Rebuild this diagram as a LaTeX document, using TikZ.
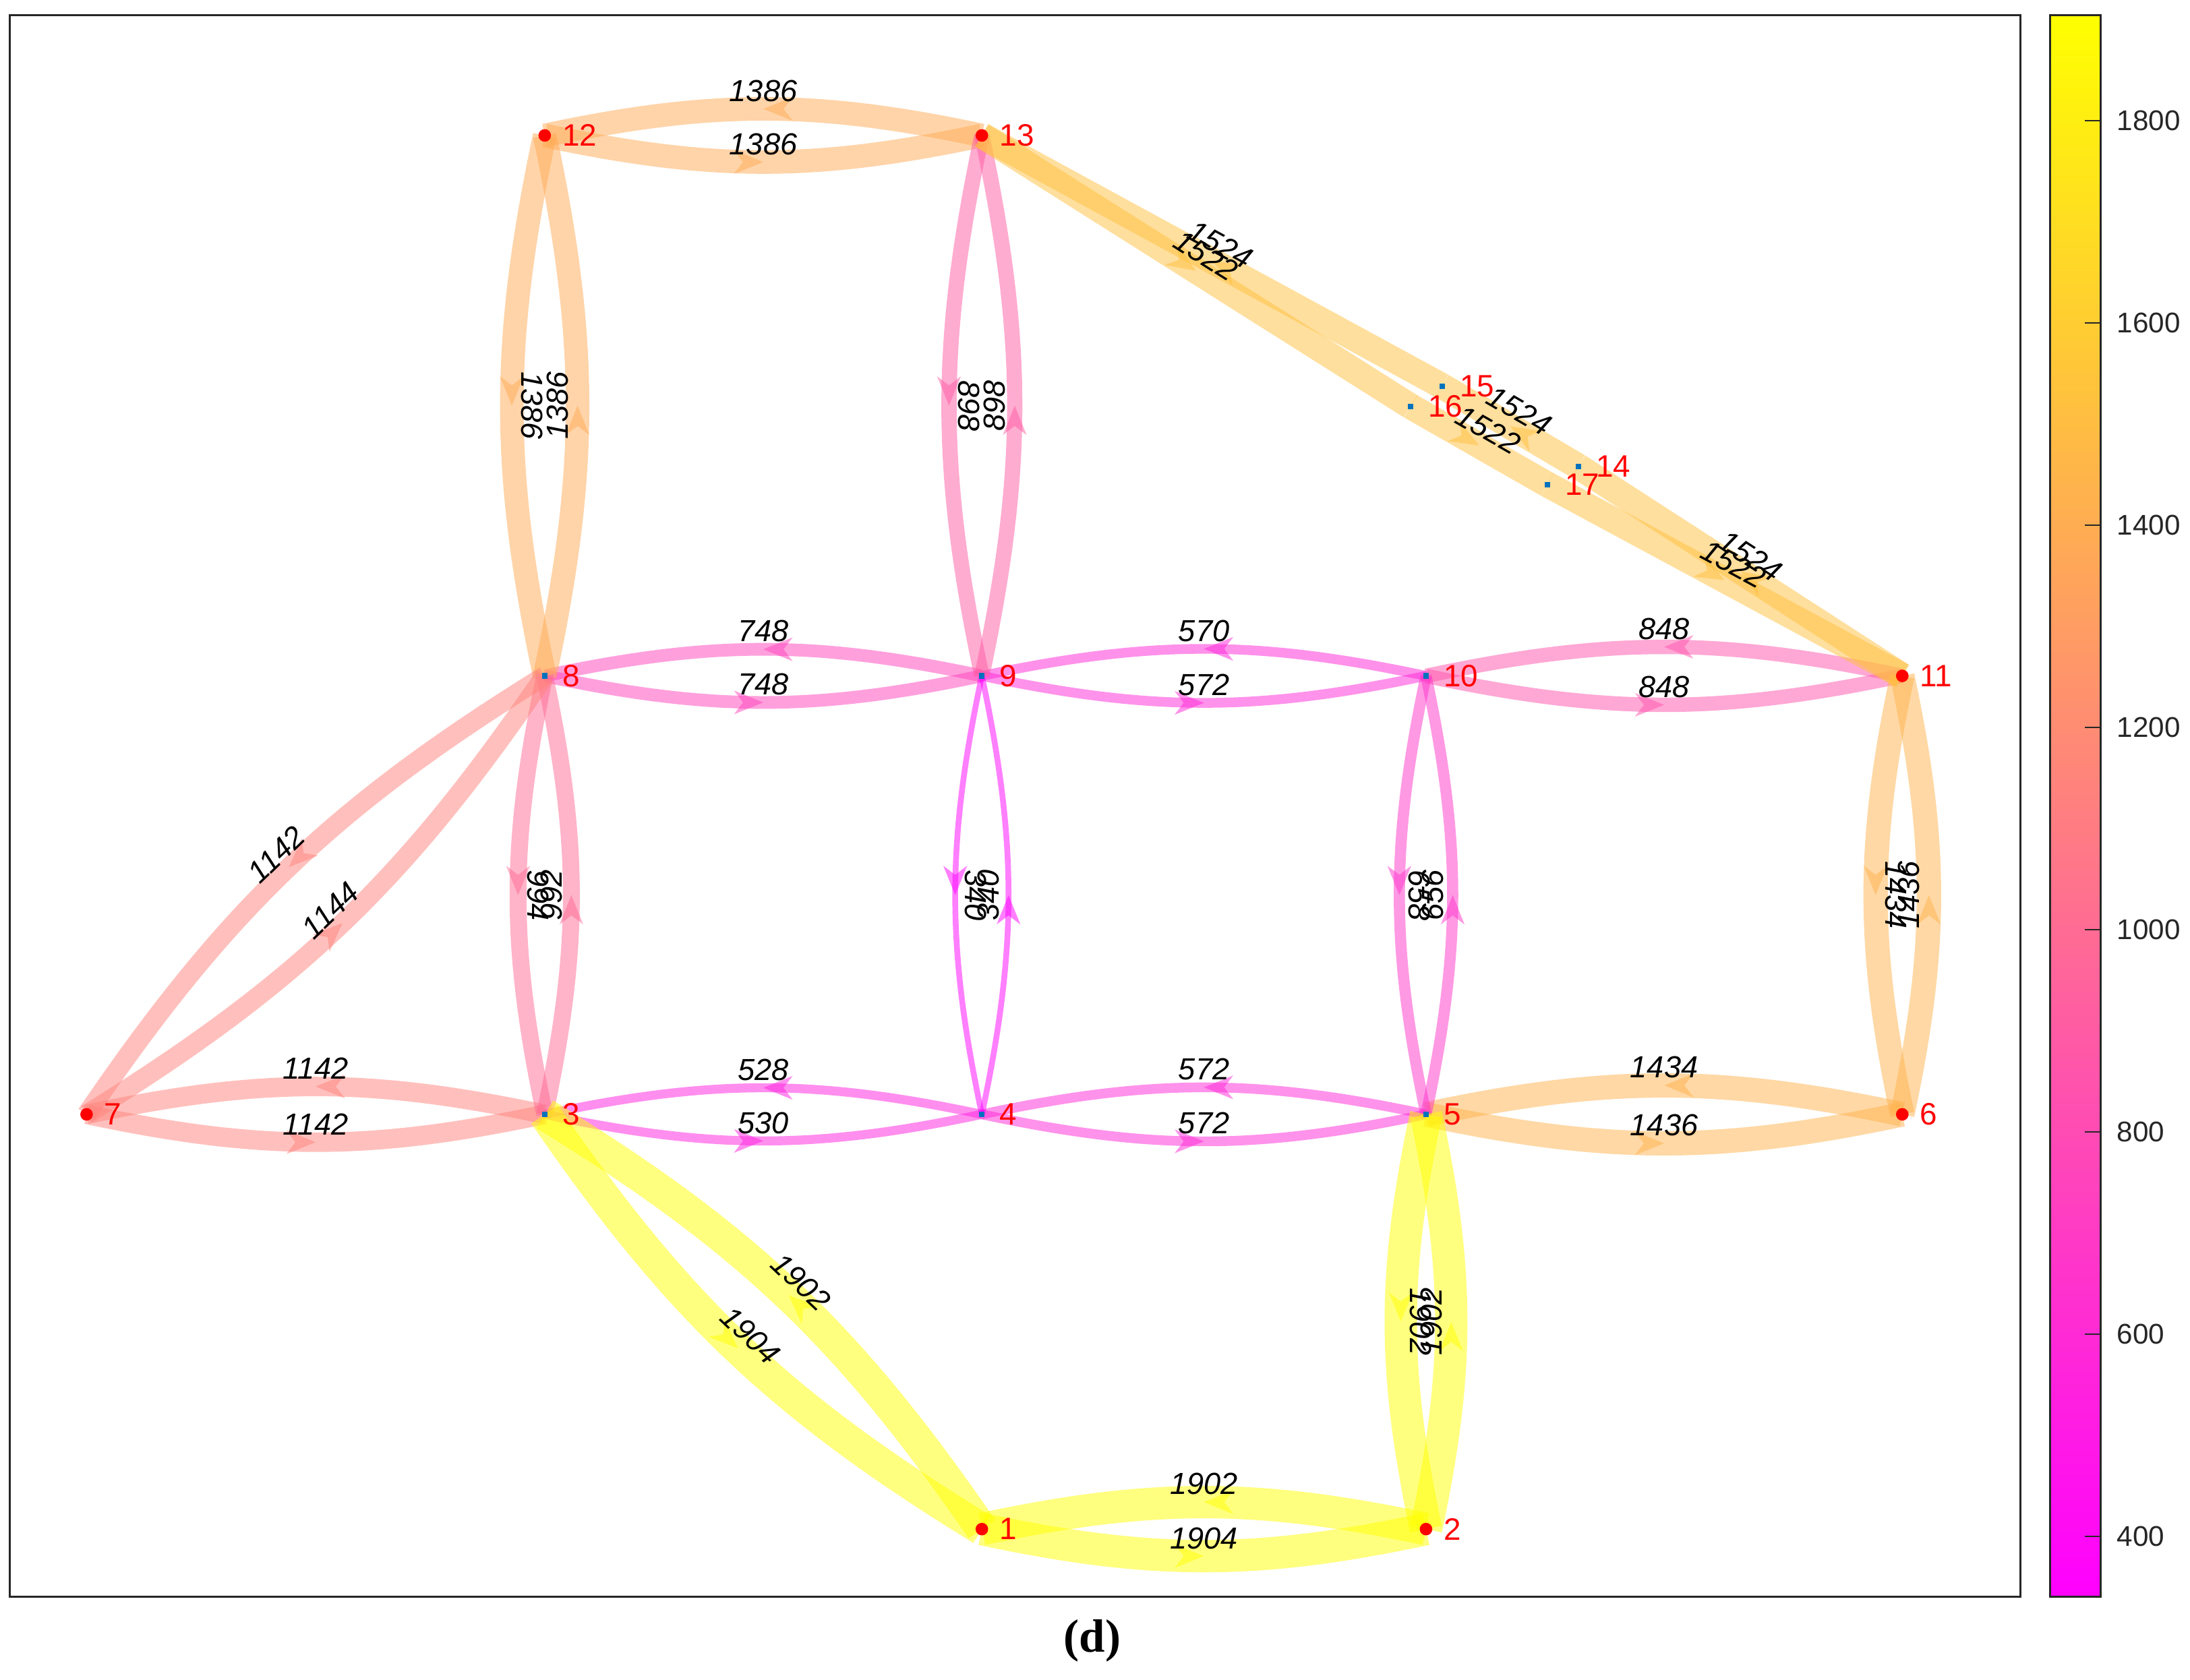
\documentclass[tikz,border=0pt]{standalone}
\usepackage{fontspec}
\setmainfont{Liberation Sans}
\newfontfamily\capfont{Liberation Serif}
\usetikzlibrary{decorations.markings}
\pgfdeclarelayer{fg}
\pgfsetlayers{main,fg}
\definecolor{mblue}{rgb}{0,0.447,0.741}
\definecolor{axgray}{rgb}{0.15,0.15,0.15}
\definecolor{cbmag}{rgb}{1,0,1}
\definecolor{cbyel}{rgb}{1,1,0}
\definecolor{ec}{rgb}{1,0,1}
\newcommand\flowcol[1]{%
  \pgfmathsetmacro\flowG{(#1-340)/1564}%
  \pgfmathsetmacro\flowB{1-\flowG}%
  \definecolor{ec}{rgb}{1,\flowG,\flowB}}
\tikzset{
  flowarrow/.style={postaction={decorate, decoration={markings,
     mark=at position 0.5 with {\fill[ec, fill opacity=0.5] (0,0) -- (-0.21cm,0.085cm) -- (-0.145cm,0) -- (-0.21cm,-0.085cm) -- cycle;}}}},
  flowline/.style={draw=ec, draw opacity=0.5, line cap=butt, flowarrow},
  elabel/.style={font=\fontsize{6.2}{7}\selectfont\itshape, text=black, anchor=south, inner xsep=0pt, inner ysep=0.045cm},
  vlab/.style={inner ysep=0.06cm},
  nlabel/.style={font=\fontsize{6.3}{7}\selectfont, text=red, anchor=west, inner sep=0pt},
  reddot/.style={circle, fill=red, inner sep=0pt, minimum size=0.09cm},
  bluesq/.style={rectangle, fill=mblue, inner sep=0pt, minimum size=0.04cm},
  cblabel/.style={font=\fontsize{5.8}{7}\selectfont, text=axgray, anchor=west, inner sep=0pt},
  boxline/.style={draw=axgray, line width=0.4pt},
}
% from, to, value, label, label options, path operation
\newcommand\fedge[6]{%
  \flowcol{#3}%
  \draw[flowline, line width=#3*0.000125cm] (n#1.center) #6 node[coordinate, pos=0.5] (m#1-#2) {} (n#2.center);%
  \begin{pgfonlayer}{fg}\node[elabel, #5] (l#1-#2) at (m#1-#2) {#4};\end{pgfonlayer}%
}
\newcommand\cv{to[bend right=12]}
\begin{document}
\begin{tikzpicture}[x=0.01cm, y=0.01cm]
\useasboundingbox (0,0) rectangle (1568,1203);
\fill[white] (0,0) rectangle (1568,1203);

% network nodes
\begin{pgfonlayer}{fg}
\node[reddot] (n1) at (703,108) {};
\node[reddot] (n2) at (1021,108) {};
\node[bluesq] (n3) at (390,405) {};
\node[bluesq] (n4) at (703,405) {};
\node[bluesq] (n5) at (1021,405) {};
\node[reddot] (n6) at (1362,405) {};
\node[reddot] (n7) at (62,405) {};
\node[bluesq] (n8) at (390,719) {};
\node[bluesq] (n9) at (703,719) {};
\node[bluesq] (n10) at (1021,719) {};
\node[reddot] (n11) at (1362,719) {};
\node[reddot] (n12) at (390,1106) {};
\node[reddot] (n13) at (703,1106) {};
\node[bluesq] (n14) at (1130,869) {};
\node[bluesq] (n15) at (1032.5,926.5) {};
\node[bluesq] (n16) at (1010,912) {};
\node[bluesq] (n17) at (1108,856) {};
\foreach \k in {1,...,17} {\node[nlabel] (t\k) at ([xshift=0.12cm]n\k.center) {\k};}
\end{pgfonlayer}

% horizontal pairs
\fedge{13}{12}{1386}{1386}{rotate=0}{\cv}
\fedge{12}{13}{1386}{1386}{rotate=0}{\cv}
\fedge{9}{8}{748}{748}{rotate=0}{\cv}
\fedge{8}{9}{748}{748}{rotate=0}{\cv}
\fedge{10}{9}{570}{570}{rotate=0}{\cv}
\fedge{9}{10}{572}{572}{rotate=0}{\cv}
\fedge{11}{10}{848}{848}{rotate=0}{\cv}
\fedge{10}{11}{848}{848}{rotate=0}{\cv}
\fedge{3}{7}{1142}{1142}{rotate=0}{\cv}
\fedge{7}{3}{1142}{1142}{rotate=0}{\cv}
\fedge{4}{3}{528}{528}{rotate=0}{\cv}
\fedge{3}{4}{530}{530}{rotate=0}{\cv}
\fedge{5}{4}{572}{572}{rotate=0}{\cv}
\fedge{4}{5}{572}{572}{rotate=0}{\cv}
\fedge{6}{5}{1434}{1434}{rotate=0}{\cv}
\fedge{5}{6}{1436}{1436}{rotate=0}{\cv}
\fedge{2}{1}{1902}{1902}{rotate=0}{\cv}
\fedge{1}{2}{1904}{1904}{rotate=0}{\cv}
% vertical pairs
\fedge{12}{8}{1386}{1386}{rotate=-90, vlab}{\cv}
\fedge{8}{12}{1386}{1386}{rotate=90, vlab}{\cv}
\fedge{13}{9}{898}{898}{rotate=-90, vlab}{\cv}
\fedge{9}{13}{898}{898}{rotate=90, vlab}{\cv}
\fedge{8}{3}{994}{994}{rotate=-90, vlab}{\cv}
\fedge{3}{8}{992}{992}{rotate=90, vlab}{\cv}
\fedge{9}{4}{340}{340}{rotate=-90, vlab}{\cv}
\fedge{4}{9}{340}{340}{rotate=90, vlab}{\cv}
\fedge{10}{5}{658}{658}{rotate=-90, vlab}{\cv}
\fedge{5}{10}{656}{656}{rotate=90, vlab}{\cv}
\fedge{11}{6}{1434}{1434}{rotate=-90, vlab}{\cv}
\fedge{6}{11}{1436}{1436}{rotate=90, vlab}{\cv}
\fedge{5}{2}{1902}{1902}{rotate=-90, vlab}{\cv}
\fedge{2}{5}{1902}{1902}{rotate=90, vlab}{\cv}
% diagonal pairs
\fedge{8}{7}{1142}{1142}{rotate=43.75}{\cv}
\fedge{7}{8}{1144}{1144}{rotate=43.75}{\cv}
\fedge{1}{3}{1902}{1902}{rotate=-43.5}{\cv}
\fedge{3}{1}{1904}{1904}{rotate=-43.5}{\cv}
% straight single edges
\fedge{13}{16}{1522}{1522}{rotate=-32.3}{--}
\fedge{16}{17}{1522}{1522}{rotate=-29.7}{--}
\fedge{17}{11}{1522}{1522}{rotate=-28.3}{--}
\fedge{11}{14}{1524}{1524}{rotate=-33.1}{--}
\fedge{14}{15}{1524}{1524}{rotate=-30.2}{--}
\fedge{15}{13}{1524}{1524}{rotate=-28.5}{--}

% axes box
\draw[boxline] (7,59.5) rectangle (1446.5,1192);

% colorbar
\shade[bottom color=cbmag, top color=cbyel] (1468,59.5) rectangle (1504,1192);
\draw[boxline] (1468,59.5) rectangle (1504,1192);
\foreach \v in {400,600,...,1800} {
  \pgfmathsetmacro\ty{59.5+(\v-340)*0.72411}
  \draw[draw=axgray, line width=0.3pt] (1492.7,\ty) -- (1504,\ty);
  \node[cblabel] (cb\v) at (1515,\ty) {\v};
}

% caption
\node[font=\capfont\bfseries\fontsize{9.5}{11}\selectfont, inner sep=0pt] (cap) at (782,28) {(d)};
\end{tikzpicture}
\end{document}
